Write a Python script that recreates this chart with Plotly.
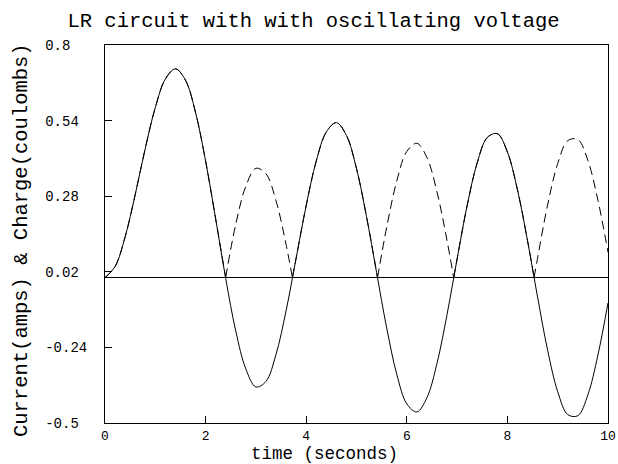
import plotly.graph_objects as go

# ---- data ----
time_s = [0.0, 0.2, 0.4, 0.6, 0.8, 1.0, 1.2, 1.4, 1.6, 1.8,
          2.0, 2.2, 2.4, 2.6, 2.8, 3.0, 3.2, 3.4, 3.6, 3.8,
          4.0, 4.2, 4.4, 4.6, 4.8, 5.0, 5.2, 5.4, 5.6, 5.8,
          6.0, 6.2, 6.4, 6.6, 6.8, 7.0, 7.2, 7.4, 7.6, 7.8,
          8.0, 8.2, 8.4, 8.6, 8.8, 9.0, 9.2, 9.4, 9.6, 9.8, 10.0]

current_amps = [0.000, 0.038, 0.140, 0.285, 0.444, 0.585, 0.683, 0.718, 0.679, 0.568,
                0.401, 0.202, -0.003, -0.184, -0.314, -0.376, -0.357, -0.264, -0.114, 0.067,
                0.248, 0.401, 0.501, 0.533, 0.489, 0.375, 0.209, 0.017, -0.173, -0.332,
                -0.434, -0.462, -0.413, -0.295, -0.127, 0.064, 0.248, 0.395, 0.482, 0.495,
                0.432, 0.302, 0.127, -0.067, -0.250, -0.392, -0.471, -0.475, -0.403, -0.266, -0.087]

# dashed curve, read as separate arcs (None separates arcs)
charge_time = [0.0, 0.2, 0.4, 0.6, 0.8, 1.0, 1.2, 1.4, 1.6, 1.8, 2.0, 2.2, 2.399, None,
               2.399, 2.6, 2.8, 3.0, 3.2, 3.4, 3.6, 3.725, None,
               3.725, 3.8, 4.0, 4.2, 4.4, 4.6, 4.8, 5.0, 5.2, 5.418, None,
               5.418, 5.6, 5.8, 6.0, 6.2, 6.4, 6.6, 6.8, 6.933, None,
               6.933, 7.0, 7.2, 7.4, 7.6, 7.8, 8.0, 8.2, 8.4, 8.531, None,
               8.531, 8.6, 8.8, 9.0, 9.2, 9.4, 9.6, 9.8, 10.0]
charge_coulombs = [0.000, 0.038, 0.140, 0.285, 0.444, 0.585, 0.683, 0.718, 0.679, 0.568, 0.401, 0.202, 0.0, None,
                   0.0, 0.184, 0.314, 0.376, 0.357, 0.264, 0.114, 0.0, None,
                   0.0, 0.067, 0.248, 0.401, 0.501, 0.533, 0.489, 0.375, 0.209, 0.0, None,
                   0.0, 0.173, 0.332, 0.434, 0.462, 0.413, 0.295, 0.127, 0.0, None,
                   0.0, 0.064, 0.248, 0.395, 0.482, 0.495, 0.432, 0.302, 0.127, 0.0, None,
                   0.0, 0.067, 0.250, 0.392, 0.471, 0.475, 0.403, 0.266, 0.087]

x_ticks = [0, 2, 4, 6, 8, 10]
y_ticks = [-0.5, -0.24, 0.02, 0.28, 0.54, 0.8]
y_tick_labels = ["-0.5", "-0.24", "0.02", "0.28", "0.54", "0.8"]

title_text = "LR circuit with with oscillating voltage"
x_title = "time (seconds)"
y_title = "Current(amps) & Charge(coulombs)"

FONT = "Liberation Mono"
NB = "\u00a0"

fig = go.Figure()
fig.add_trace(go.Scatter(x=charge_time, y=charge_coulombs, mode="lines",
                         line=dict(color="black", width=1, dash="9px,5px", shape="spline"),
                         connectgaps=False, hoverinfo="skip"))
fig.add_trace(go.Scatter(x=time_s, y=current_amps, mode="lines",
                         line=dict(color="black", width=1, shape="spline"),
                         hoverinfo="skip"))

fig.update_layout(
    width=618, height=464,
    margin=dict(l=105, r=10, t=45, b=41, autoexpand=False),
    paper_bgcolor="white", plot_bgcolor="white",
    showlegend=False,
    font=dict(family=FONT, color="black", size=14),
    title=dict(text=title_text, x=313.5 / 618, xref="container", xanchor="center",
               y=1 - 20 / 464, yref="container", yanchor="middle",
               font=dict(family=FONT, size=20.5, color="black")),
)
fig.update_xaxes(range=[0, 10], tickvals=x_ticks, ticktext=[str(v) for v in x_ticks],
                 ticks="inside", ticklen=7, tickcolor="black", tickwidth=1,
                 showline=True, linecolor="black", linewidth=1, mirror=True,
                 showgrid=False, zeroline=False, automargin=False,
                 ticklabelstandoff=0,
                 tickfont=dict(family=FONT, size=13, color="black"))
fig.update_yaxes(range=[-0.5, 0.8], tickvals=y_ticks,
                 ticktext=[t + NB * (5 - len(t)) for t in y_tick_labels],
                 ticks="inside", ticklen=7, tickcolor="black", tickwidth=1,
                 showline=True, linecolor="black", linewidth=1, mirror=True,
                 showgrid=False, zeroline=True, zerolinecolor="black", zerolinewidth=1,
                 automargin=False, ticklabelstandoff=14,
                 tickfont=dict(family=FONT, size=14, color="black"))

fig.add_annotation(text=x_title, xref="paper", yref="paper",
                   x=(324 - 105) / 503, y=(423 - 454) / 378,
                   xanchor="center", yanchor="middle", showarrow=False,
                   borderpad=0,
                   font=dict(family=FONT, size=17.5, color="black"))
fig.add_annotation(text=y_title, xref="paper", yref="paper",
                   x=(22 - 105) / 503, y=(423 - 240) / 378, textangle=-90,
                   xanchor="center", yanchor="middle", showarrow=False,
                   font=dict(family=FONT, size=20.5, color="black"))

fig.write_html("out.html")
